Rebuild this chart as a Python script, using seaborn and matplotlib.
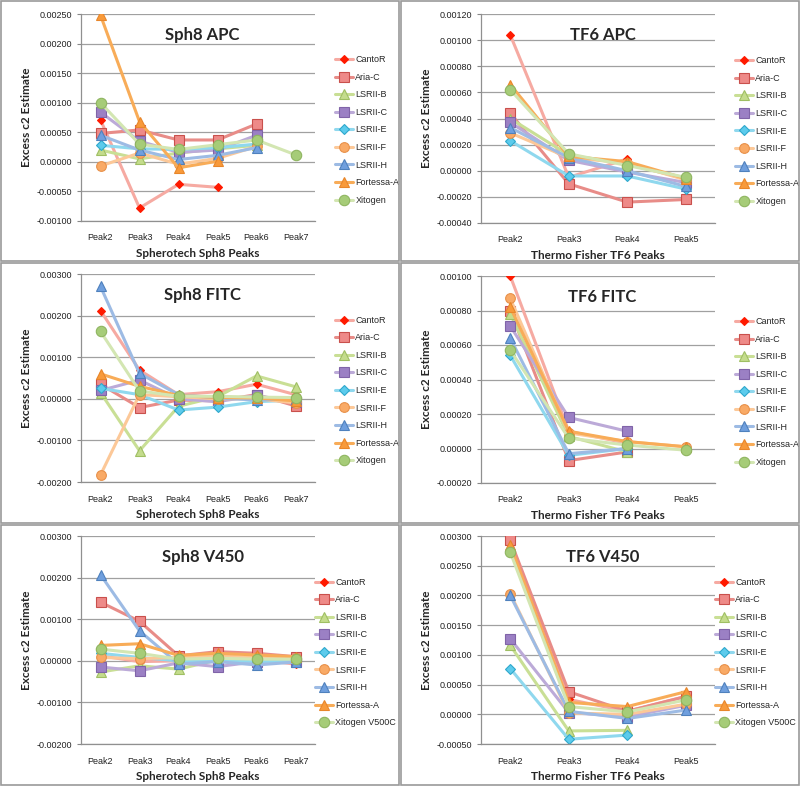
import numpy as np
import pandas as pd
import matplotlib
matplotlib.use('Agg')
import matplotlib.pyplot as plt
import seaborn as sns
from matplotlib.patches import Rectangle

nan = np.nan

instruments = ["CantoR", "Aria-C", "LSRII-B", "LSRII-C", "LSRII-E",
               "LSRII-F", "LSRII-H", "Fortessa-A", "Xitogen"]

sph8_peaks = ["Peak2", "Peak3", "Peak4", "Peak5", "Peak6", "Peak7"]
tf6_peaks = ["Peak2", "Peak3", "Peak4", "Peak5"]

# Sph8 APC (Peak2..Peak7)
sph8_apc = {
    "CantoR":     [0.00071, -0.00078, -0.00038, -0.00043, nan, nan],
    "Aria-C":     [0.00048, 0.00054, 0.00037, 0.00037, 0.00064, nan],
    "LSRII-B":    [0.00020, 0.00005, 0.00015, 0.00022, 0.00028, nan],
    "LSRII-C":    [0.00084, 0.00035, 0.00016, 0.00020, 0.00045, nan],
    "LSRII-E":    [0.00028, 0.00022, 0.00021, 0.00024, 0.00030, nan],
    "LSRII-F":    [-0.00007, 0.00015, -0.00004, 0.00006, 0.00026, nan],
    "LSRII-H":    [0.00045, 0.00020, 0.00004, 0.00011, 0.00024, nan],
    "Fortessa-A": [0.00248, 0.00068, -0.00010, 0.00001, nan, nan],
    "Xitogen":    [0.00100, 0.00030, 0.00021, 0.00029, 0.00037, 0.00012],
}

# TF6 APC (Peak2..Peak5)
tf6_apc = {
    "CantoR":     [0.00104, -0.00005, 0.00009, nan],
    "Aria-C":     [0.00044, -0.00010, -0.00024, -0.00022],
    "LSRII-B":    [0.00040, 0.00012, 0.00005, -0.00006],
    "LSRII-C":    [0.00037, 0.00008, -0.00001, -0.00009],
    "LSRII-E":    [0.00023, -0.00004, -0.00004, -0.00014],
    "LSRII-F":    [0.00029, 0.00010, 0.00006, -0.00007],
    "LSRII-H":    [0.00033, 0.00010, 0.00000, -0.00012],
    "Fortessa-A": [0.00066, 0.00011, 0.00007, -0.00006],
    "Xitogen":    [0.00062, 0.00013, 0.00004, -0.00005],
}

# Sph8 FITC
sph8_fitc = {
    "CantoR":     [0.00212, 0.00069, 0.00010, 0.00017, 0.00035, 0.00010],
    "Aria-C":     [0.00035, -0.00021, -0.00003, -0.00005, 0.00010, -0.00017],
    "LSRII-B":    [0.00015, -0.00125, -0.00018, 0.00005, 0.00055, 0.00029],
    "LSRII-C":    [0.00020, 0.00045, 0.00000, -0.00007, 0.00008, -0.00008],
    "LSRII-E":    [0.00025, 0.00010, -0.00027, -0.00020, -0.00007, -0.00003],
    "LSRII-F":    [-0.00183, 0.00010, 0.00005, 0.00000, 0.00000, -0.00010],
    "LSRII-H":    [0.00270, 0.00061, 0.00010, 0.00002, -0.00003, 0.00000],
    "Fortessa-A": [0.00060, 0.00030, 0.00008, 0.00003, 0.00002, -0.00005],
    "Xitogen":    [0.00162, 0.00019, 0.00006, 0.00006, 0.00004, 0.00003],
}

# TF6 FITC
tf6_fitc = {
    "CantoR":     [0.00100, 0.00010, 0.00003, nan],
    "Aria-C":     [0.00080, -0.00007, -0.00002, nan],
    "LSRII-B":    [0.00078, 0.00007, -0.00002, nan],
    "LSRII-C":    [0.00071, 0.00018, 0.00010, nan],
    "LSRII-E":    [0.00054, -0.00004, 0.00000, nan],
    "LSRII-F":    [0.00087, 0.00009, 0.00004, 0.00001],
    "LSRII-H":    [0.00064, -0.00003, 0.00000, nan],
    "Fortessa-A": [0.00082, 0.00010, 0.00004, 0.00001],
    "Xitogen":    [0.00057, 0.00006, 0.00002, -0.00001],
}

# Sph8 V450
sph8_v450 = {
    "CantoR":     [0.00012, -0.00002, 0.00000, 0.00000, 0.00003, -0.00008],
    "Aria-C":     [0.00141, 0.00095, 0.00012, 0.00022, 0.00018, 0.00010],
    "LSRII-B":    [-0.00027, -0.00012, -0.00020, 0.00002, 0.00002, 0.00000],
    "LSRII-C":    [-0.00015, -0.00024, -0.00005, -0.00014, -0.00002, -0.00002],
    "LSRII-E":    [0.00018, 0.00008, 0.00000, 0.00000, -0.00001, -0.00002],
    "LSRII-F":    [0.00008, 0.00005, 0.00008, 0.00012, 0.00008, 0.00006],
    "LSRII-H":    [0.00207, 0.00072, -0.00008, -0.00002, -0.00010, -0.00003],
    "Fortessa-A": [0.00037, 0.00041, 0.00013, 0.00018, 0.00014, 0.00010],
    "Xitogen":    [0.00028, 0.00018, 0.00004, 0.00006, 0.00004, 0.00004],
}

# TF6 V450
tf6_v450 = {
    "CantoR":     [0.00290, 0.00025, 0.00005, 0.00030],
    "Aria-C":     [0.00293, 0.00038, 0.00005, 0.00030],
    "LSRII-B":    [0.00116, -0.00028, -0.00027, nan],
    "LSRII-C":    [0.00127, 0.00003, -0.00004, 0.00015],
    "LSRII-E":    [0.00077, -0.00042, -0.00035, nan],
    "LSRII-F":    [0.00203, 0.00002, 0.00000, 0.00017],
    "LSRII-H":    [0.00200, 0.00005, -0.00007, 0.00007],
    "Fortessa-A": [0.00285, 0.00020, 0.00013, 0.00038],
    "Xitogen":    [0.00273, 0.00013, 0.00004, 0.00024],
}

# line colour, marker, marker face, marker edge, marker size
styles = {
    "CantoR":     ("#f6aaa2", "D", "#ff1a00", "#ff1a00", 4),
    "Aria-C":     ("#e88c88", "s", "#ee8a88", "#c9504c", 7),
    "LSRII-B":    ("#c9df95", "^", "#c4dc8c", "#9fbf63", 6.5),
    "LSRII-C":    ("#bcaad8", "s", "#9b80c4", "#8064a8", 7),
    "LSRII-E":    ("#8fd8ee", "D", "#5ccbec", "#2fa8cc", 5),
    "LSRII-F":    ("#fcc898", "o", "#f9aa66", "#e8914a", 7),
    "LSRII-H":    ("#9dbbe4", "^", "#6f9fde", "#4f81bd", 6.5),
    "Fortessa-A": ("#f8ac58", "^", "#f89a3a", "#e8862a", 6.5),
    "Xitogen":    ("#d3e6b2", "o", "#a6cc78", "#8fb560", 7.5),
}

panels = [
    # data, peaks, title, xlabel, ylim, step, plot rect in px, last legend label, legend x
    (sph8_apc, sph8_peaks, "Sph8 APC", "Spherotech Sph8 Peaks", (-0.001, 0.0025), 0.0005, (81, 14, 315, 221), "Xitogen", 1.07),
    (tf6_apc, tf6_peaks, "TF6 APC", "Thermo Fisher TF6 Peaks", (-0.0004, 0.0012), 0.0002, (481, 14, 715, 223), "Xitogen", 1.07),
    (sph8_fitc, sph8_peaks, "Sph8 FITC", "Spherotech Sph8 Peaks", (-0.002, 0.003), 0.001, (81, 274, 315, 482), "Xitogen", 1.07),
    (tf6_fitc, tf6_peaks, "TF6 FITC", "Thermo Fisher TF6 Peaks", (-0.0002, 0.001), 0.0002, (481, 276, 715, 483), "Xitogen", 1.07),
    (sph8_v450, sph8_peaks, "Sph8 V450", "Spherotech Sph8 Peaks", (-0.002, 0.003), 0.001, (81, 536, 315, 744), "Xitogen V500C", 0.985),
    (tf6_v450, tf6_peaks, "TF6 V450", "Thermo Fisher TF6 Peaks", (-0.0005, 0.003), 0.0005, (481, 536, 715, 744), "Xitogen V500C", 0.985),
]

sns.set_style("white")
plt.rcParams['font.family'] = ['Liberation Sans', 'DejaVu Sans']

W, H = 800, 786
fig = plt.figure(figsize=(W / 100, H / 100), dpi=100)

# panel frames
for (x0, y0) in [(0, 0), (400, 0), (0, 262), (400, 262), (0, 524), (400, 524)]:
    fig.patches.append(Rectangle((x0 / W + 0.001, 1 - (y0 + 262) / H + 0.001),
                                 398 / W, 260 / H, transform=fig.transFigure,
                                 fill=False, edgecolor="#9a9a9a", lw=1.2))

for data, peaks, title, xlabel, ylim, step, rect, last_label, leg_x in panels:
    l, t, r, b = rect
    ax = fig.add_axes([l / W, 1 - b / H, (r - l) / W, (b - t) / H])
    xpos = np.arange(len(peaks))
    for name in instruments:
        lc, m, mfc, mec, ms = styles[name]
        df = pd.DataFrame({"x": xpos, "y": data[name]}).dropna()
        label = last_label if name == "Xitogen" else name
        sns.lineplot(data=df, x="x", y="y", ax=ax, color=lc, lw=2.2,
                     marker=m, markersize=ms, markerfacecolor=mfc,
                     markeredgecolor=mec, markeredgewidth=0.8,
                     label=label, errorbar=None, sort=False)
    ax.set_xlim(-0.5, len(peaks) - 0.5)
    ax.set_ylim(*ylim)
    ticks = np.arange(ylim[0], ylim[1] + step / 2, step)
    ax.set_yticks(ticks)
    ax.set_yticklabels([f"{v:.5f}" for v in ticks])
    ax.set_xticks(xpos)
    ax.set_xticklabels(peaks)
    ax.tick_params(axis="both", labelsize=6.5, length=3, color="#888888",
                   colors="#222222", direction="out", left=True, bottom=False)
    ax.tick_params(axis="x", pad=6)
    ax.grid(axis="y", color="#a0a0a0", lw=0.9)
    ax.grid(axis="x", visible=False)
    ax.set_axisbelow(True)
    for s in ["top", "right"]:
        ax.spines[s].set_visible(False)
    for s in ["left", "bottom"]:
        ax.spines[s].set_color("#909090")
        ax.spines[s].set_linewidth(0.9)
    ax.set_xlabel(xlabel, fontsize=8.5, fontweight="bold", family="Lato", labelpad=4)
    ax.set_ylabel("Excess c2 Estimate", fontsize=8.5, fontweight="bold", family="Lato", labelpad=3)
    ax.text(0.52, 0.9, title, transform=ax.transAxes, ha="center", va="center",
            fontsize=12, fontweight="bold", family="Lato")
    ax.legend(loc="center left", bbox_to_anchor=(leg_x, 0.44), frameon=False,
              fontsize=6.5, handlelength=2.0, handletextpad=0.25, labelspacing=0.95,
              borderaxespad=0)

fig.savefig("out.png", dpi=100)
